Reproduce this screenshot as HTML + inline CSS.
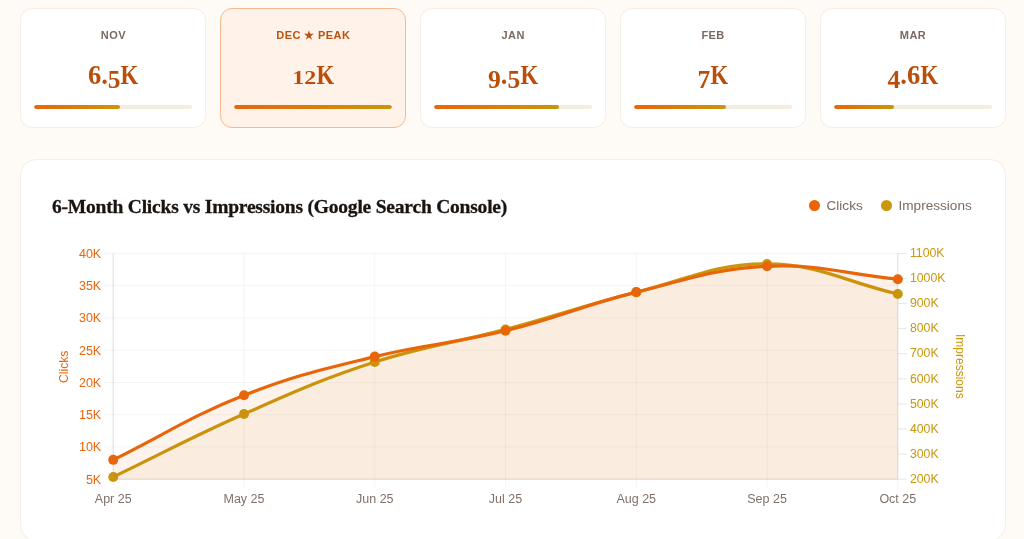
<!DOCTYPE html>
<html lang="en">
<head>
<meta charset="utf-8">
<title>6-Month Clicks vs Impressions</title>
<style>
*{box-sizing:border-box;margin:0;padding:0}
html,body{width:1024px;height:539px;overflow:hidden;background:#fefaf5}
body{font-family:"Liberation Sans",sans-serif;position:relative}
.stats{position:absolute;left:20px;top:8px;width:986px;height:119.5px;display:grid;grid-template-columns:repeat(5,1fr);gap:13.5px}
.stat{background:#fff;border:1px solid #f7ede2;border-radius:12px;position:relative;text-align:center}
.stat.peak{background:#fff2e9;border-color:#f5ba92}
.lab{position:absolute;left:0;right:0;top:19.2px;font-size:11px;line-height:14px;font-weight:bold;letter-spacing:0.4px;color:#7a6a62;text-indent:0.4px}
.peak .lab{color:#bc5210}
.val{position:absolute;left:0;right:0;top:51.2px;font-family:"Liberation Serif",serif;font-weight:bold;font-size:26.5px;line-height:30px;letter-spacing:0;color:#b94e0a}
.val .k{display:inline-block;transform:scaleX(0.86);margin:0 -1.4px}
.val .x{display:inline-block;font-size:24px;line-height:1;transform:scale(1,0.8);transform-origin:50% 83.75%}
.val .d{font-size:25.5px;position:relative;top:3.5px}
.bar{position:absolute;left:13.4px;right:13.4px;top:96px;height:4px;border-radius:3px;background:#f5ebe0;overflow:hidden}
.fill{height:100%;border-radius:3px;background:linear-gradient(90deg,#e8650a,#c9960c)}
.card{position:absolute;left:20px;top:159px;width:986px;height:382px;background:#fff;border:1px solid #f7ede2;border-radius:16px}
h2{position:absolute;left:52px;top:195px;font-family:"Liberation Serif",serif;font-weight:bold;font-size:19.5px;line-height:24px;color:#1a1410;white-space:nowrap;letter-spacing:-0.21px;-webkit-text-stroke:0.3px #1a1410}
.legend{position:absolute;top:197px;left:809px;font-size:13.6px;line-height:16px;color:#7a6a62;white-space:nowrap}
.legend span{position:absolute;top:0.6px}
.dot{width:11px;height:11px;border-radius:50%;top:3px !important}
.chart{position:absolute;left:20px;top:210px}
</style>
</head>
<body>
<div class="stats">
<div class="stat"><div class="lab">NOV</div><div class="val">6.<span class="d">5</span><span class="k">K</span></div><div class="bar"><div class="fill" style="width:54.17%"></div></div></div>
<div class="stat peak"><div class="lab">DEC ★ PEAK</div><div class="val"><span class="x">1</span><span class="x">2</span><span class="k">K</span></div><div class="bar"><div class="fill" style="width:100.00%"></div></div></div>
<div class="stat"><div class="lab">JAN</div><div class="val"><span class="d">9</span>.<span class="d">5</span><span class="k">K</span></div><div class="bar"><div class="fill" style="width:79.17%"></div></div></div>
<div class="stat"><div class="lab">FEB</div><div class="val"><span class="d">7</span><span class="k">K</span></div><div class="bar"><div class="fill" style="width:58.33%"></div></div></div>
<div class="stat"><div class="lab">MAR</div><div class="val"><span class="d">4</span>.6<span class="k">K</span></div><div class="bar"><div class="fill" style="width:38.33%"></div></div></div>
</div>
<div class="card"></div>
<h2>6-Month Clicks vs Impressions (Google Search Console)</h2>
<div class="legend"><span class="dot" style="left:0;background:#e8650a"></span><span style="left:17.5px">Clicks</span><span class="dot" style="left:72px;background:#c9960c"></span><span style="left:89.5px">Impressions</span></div>
<svg class="chart" width="985" height="330" viewBox="20 210 985 330" font-family="Liberation Sans, sans-serif" font-size="12.5">
<g stroke="#000" stroke-opacity="0.045" stroke-width="1"><line x1="104.2" y1="479.20" x2="897.8" y2="479.20"/><line x1="104.2" y1="446.94" x2="897.8" y2="446.94"/><line x1="104.2" y1="414.69" x2="897.8" y2="414.69"/><line x1="104.2" y1="382.43" x2="897.8" y2="382.43"/><line x1="104.2" y1="350.17" x2="897.8" y2="350.17"/><line x1="104.2" y1="317.91" x2="897.8" y2="317.91"/><line x1="104.2" y1="285.66" x2="897.8" y2="285.66"/><line x1="104.2" y1="253.40" x2="897.8" y2="253.40"/><line x1="113.25" y1="253.4" x2="113.25" y2="487.8"/><line x1="244.01" y1="253.4" x2="244.01" y2="487.8"/><line x1="374.77" y1="253.4" x2="374.77" y2="487.8"/><line x1="505.52" y1="253.4" x2="505.52" y2="487.8"/><line x1="636.28" y1="253.4" x2="636.28" y2="487.8"/><line x1="767.04" y1="253.4" x2="767.04" y2="487.8"/><line x1="897.80" y1="253.4" x2="897.80" y2="487.8"/></g>
<g stroke="#000" stroke-opacity="0.1" stroke-width="1"><line x1="897.8" y1="479.20" x2="906.6" y2="479.20"/><line x1="897.8" y1="454.11" x2="906.6" y2="454.11"/><line x1="897.8" y1="429.02" x2="906.6" y2="429.02"/><line x1="897.8" y1="403.93" x2="906.6" y2="403.93"/><line x1="897.8" y1="378.84" x2="906.6" y2="378.84"/><line x1="897.8" y1="353.76" x2="906.6" y2="353.76"/><line x1="897.8" y1="328.67" x2="906.6" y2="328.67"/><line x1="897.8" y1="303.58" x2="906.6" y2="303.58"/><line x1="897.8" y1="278.49" x2="906.6" y2="278.49"/><line x1="897.8" y1="253.40" x2="906.6" y2="253.40"/></g>
<g stroke="#000" stroke-opacity="0.1" stroke-width="1"><line x1="113.2" y1="253.4" x2="113.2" y2="479.2"/><line x1="897.8" y1="253.4" x2="897.8" y2="479.2"/><line x1="113.2" y1="479.2" x2="897.8" y2="479.2"/></g>
<path d="M113.25 476.94 C165.55 451.75 190.89 437.31 244.01 413.97 C295.50 391.34 321.34 379.31 374.77 362.03 C425.94 345.49 453.45 343.31 505.52 329.42 C558.05 315.41 583.57 305.49 636.28 292.29 C688.17 279.29 714.81 263.59 767.04 263.94 C819.42 264.29 845.50 282.00 897.80 294.04 L897.80 479.20 L113.25 479.20 Z" fill="#c9960c" fill-opacity="0.06"/>
<path d="M113.25 476.94 C165.55 451.75 190.89 437.31 244.01 413.97 C295.50 391.34 321.34 379.31 374.77 362.03 C425.94 345.49 453.45 343.31 505.52 329.42 C558.05 315.41 583.57 305.49 636.28 292.29 C688.17 279.29 714.81 263.59 767.04 263.94 C819.42 264.29 845.50 282.00 897.80 294.04" fill="none" stroke="#c9960c" stroke-width="3.2" stroke-linejoin="round" stroke-linecap="butt"/>
<g fill="#c9960c"><circle cx="113.25" cy="476.94" r="5"/><circle cx="244.01" cy="413.97" r="5"/><circle cx="374.77" cy="362.03" r="5"/><circle cx="505.52" cy="329.42" r="5"/><circle cx="636.28" cy="292.29" r="5"/><circle cx="767.04" cy="263.94" r="5"/><circle cx="897.80" cy="294.04" r="5"/></g>
<path d="M113.25 459.85 C165.55 434.04 189.96 416.67 244.01 395.33 C294.56 375.38 321.86 369.67 374.77 356.62 C426.47 343.87 453.82 343.57 505.52 330.82 C558.43 317.77 583.38 305.16 636.28 292.11 C687.99 279.35 714.37 268.90 767.04 266.30 C818.97 263.74 845.50 274.04 897.80 279.21 L897.80 479.20 L113.25 479.20 Z" fill="#e8650a" fill-opacity="0.08"/>
<path d="M113.25 459.85 C165.55 434.04 189.96 416.67 244.01 395.33 C294.56 375.38 321.86 369.67 374.77 356.62 C426.47 343.87 453.82 343.57 505.52 330.82 C558.43 317.77 583.38 305.16 636.28 292.11 C687.99 279.35 714.37 268.90 767.04 266.30 C818.97 263.74 845.50 274.04 897.80 279.21" fill="none" stroke="#e8650a" stroke-width="3.2" stroke-linejoin="round" stroke-linecap="butt"/>
<g fill="#e8650a"><circle cx="113.25" cy="459.85" r="5"/><circle cx="244.01" cy="395.33" r="5"/><circle cx="374.77" cy="356.62" r="5"/><circle cx="505.52" cy="330.82" r="5"/><circle cx="636.28" cy="292.11" r="5"/><circle cx="767.04" cy="266.30" r="5"/><circle cx="897.80" cy="279.21" r="5"/></g>
<g fill="#e8650a"><text x="101.2" y="483.70" text-anchor="end">5K</text><text x="101.2" y="451.44" text-anchor="end">10K</text><text x="101.2" y="419.19" text-anchor="end">15K</text><text x="101.2" y="386.93" text-anchor="end">20K</text><text x="101.2" y="354.67" text-anchor="end">25K</text><text x="101.2" y="322.41" text-anchor="end">30K</text><text x="101.2" y="290.16" text-anchor="end">35K</text><text x="101.2" y="257.90" text-anchor="end">40K</text></g>
<g fill="#c9960c" font-size="12.3"><text x="909.9" y="482.90">200K</text><text x="909.9" y="457.81">300K</text><text x="909.9" y="432.72">400K</text><text x="909.9" y="407.63">500K</text><text x="909.9" y="382.54">600K</text><text x="909.9" y="357.46">700K</text><text x="909.9" y="332.37">800K</text><text x="909.9" y="307.28">900K</text><text x="909.9" y="282.19">1000K</text><text x="909.9" y="257.10">1100K</text></g>
<g fill="#80706a"><text x="113.25" y="502.6" text-anchor="middle">Apr 25</text><text x="244.01" y="502.6" text-anchor="middle">May 25</text><text x="374.77" y="502.6" text-anchor="middle">Jun 25</text><text x="505.52" y="502.6" text-anchor="middle">Jul 25</text><text x="636.28" y="502.6" text-anchor="middle">Aug 25</text><text x="767.04" y="502.6" text-anchor="middle">Sep 25</text><text x="897.80" y="502.6" text-anchor="middle">Oct 25</text></g>
<text fill="#e8650a" font-size="12.2" text-anchor="middle" transform="translate(67.6 366.8) rotate(-90)">Clicks</text>
<text fill="#c9960c" font-size="12" text-anchor="middle" transform="translate(955.8 366.3) rotate(90)">Impressions</text>
</svg>
</body>
</html>
